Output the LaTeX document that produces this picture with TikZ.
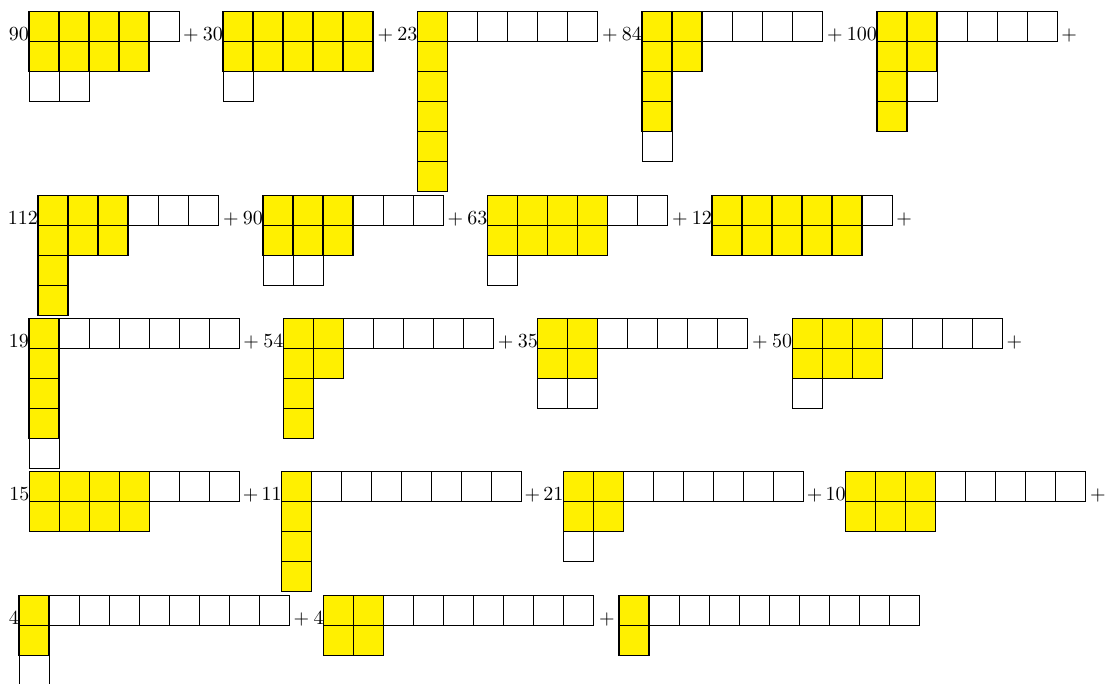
\documentclass[tikz,border=0pt]{standalone}
\usepackage{tikz}
\definecolor{cellyellow}{HTML}{FFF000}
\tikzset{box/.style={draw=black,line width=0.4pt}, fullbox/.style={draw=black,fill=cellyellow,line width=0.6pt}, coef/.style={inner sep=0pt,outer sep=0pt,anchor=base east}, tail/.style={inner sep=0pt,outer sep=0pt,anchor=base west}, tight/.style={execute at begin node={\medmuskip=3mu}}}
% young diagram: left x, top y, yellow rows, all rows
\newcommand{\young}[4]{%
  \foreach \len [count=\row from 0] in {#4}
    \foreach \col in {1,...,\len}
      \draw[box] ({#1+30*(\col-1)},{#2+30*\row}) rectangle ++(30,30);
  \foreach \len [count=\row from 0] in {#3}
    \foreach \col in {1,...,\len}
      \draw[fullbox] ({#1+30*(\col-1)},{#2+30*\row}) rectangle ++(30,30);
}

\begin{document}
\begin{tikzpicture}[x=0.5pt,y=-0.5pt]
\useasboundingbox (0,0) rectangle (1107,684);
% line 1
\young{29}{11.5}{4,4}{5,4,2}
\young{223}{11.5}{5,5}{5,5,1}
\young{417.5}{11.5}{1,1,1,1,1,1}{6,1,1,1,1,1}
\young{642}{11.5}{2,2,1,1}{6,2,1,1,1}
\young{877}{11.5}{2,2,1,1}{6,2,2,1}
\node[coef] (k1) at (29,40.5) {$90$};
\node[coef] (k2) at (223,40.5) {${}+30$};
\node[coef] (k3) at (417.5,40.5) {${}+23$};
\node[coef] (k4) at (642,40.5) {${}+84$};
\node[coef] (k5) at (877,40.5) {${}+100$};
\node[tail] (s1) at (1057,40.5) {${}+{}$};
% line 2
\young{38}{195.3}{3,3,1,1}{6,3,1,1}
\young{263}{195.3}{3,3}{6,3,2}
\young{487.5}{195.3}{4,4}{6,4,1}
\young{712}{195.3}{5,5}{6,5}
\node[coef] (k6) at (38,224.3) {$112$};
\node[coef] (k7) at (263,224.3) {${}+90$};
\node[coef] (k8) at (487.5,224.3) {${}+63$};
\node[coef] (k9) at (712,224.3) {${}+12$};
\node[tail] (s2) at (892,224.3) {${}+{}$};
% line 3
\young{29}{318.8}{1,1,1,1}{7,1,1,1,1}
\young{283.4}{318.8}{2,2,1,1}{7,2,1,1}
\young{537.8}{318.8}{2,2}{7,2,2}
\young{792.2}{318.8}{3,3}{7,3,1}
\node[coef] (k10) at (29,347.8) {$19$};
\node[coef] (k11) at (283.4,347.8) {${}+54$};
\node[coef] (k12) at (537.8,347.8) {${}+35$};
\node[coef] (k13) at (792.2,347.8) {${}+50$};
\node[tail] (s3) at (1002.2,347.8) {${}+{}$};
% line 4
\young{29.3}{471.7}{4,4}{7,4}
\young{281.7}{471.7}{1,1,1,1}{8,1,1,1}
\young{563.5}{471.7}{2,2}{8,2,1}
\young{845.7}{471.7}{3,3}{8,3}
\node[coef] (k14) at (29.3,500.7) {$15$};
\node[coef,tight] (k15) at (281.7,500.7) {${}+11$};
\node[coef,tight] (k16) at (563.5,500.7) {${}+21$};
\node[coef,tight] (k17) at (845.7,500.7) {${}+10$};
\node[tail] (s4) at (1085.7,500.7) {${}+{}$};
% line 5
\young{19}{595.6}{1,1}{9,1,1}
\young{323.7}{595.6}{2,2}{9,2}
\young{619}{595.6}{1,1}{10,1}
\node[coef] (k18) at (19,624.6) {$4$};
\node[coef] (k19) at (323.7,624.6) {${}+4$};
\node[coef] (k20) at (619,624.6) {${}+{}$};
\end{tikzpicture}
\end{document}
